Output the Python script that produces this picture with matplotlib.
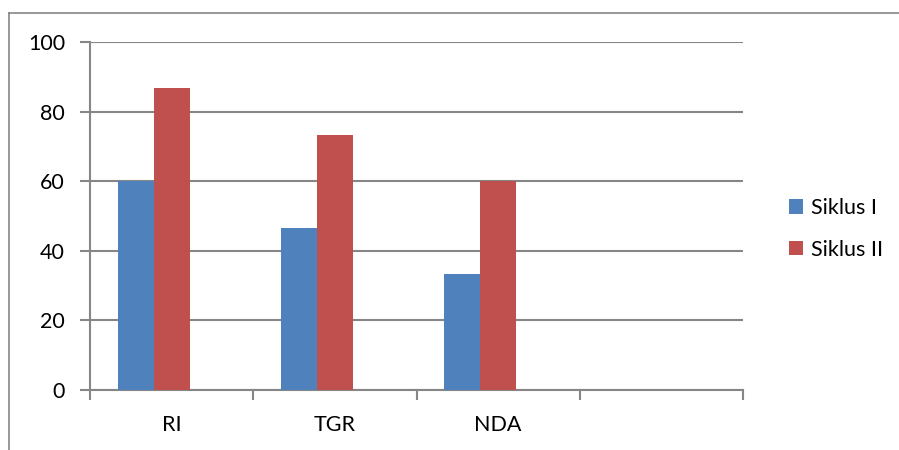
import matplotlib
matplotlib.use("Agg")
import matplotlib.pyplot as plt
from matplotlib.lines import Line2D
from matplotlib.patches import Patch
import numpy as np

categories = ["RI", "TGR", "NDA", ""]
siklus_1 = [60.0, 46.67, 33.33, np.nan]
siklus_2 = [86.67, 73.33, 60.0, np.nan]
series_names = ["Siklus I", "Siklus II"]
y_ticks = [0, 20, 40, 60, 80, 100]

BLUE = "#4F81BD"
RED = "#C0504D"
GRID = "#868686"

plt.rcParams["font.family"] = ["Lato", "DejaVu Sans"]
FS = 15.5

W, H = 899, 450
fig = plt.figure(figsize=(W / 100, H / 100), dpi=100)
fig.patch.set_facecolor("white")

# plot area in pixel coordinates
left, right, top, bottom = 90, 743, 42, 390
ax = fig.add_axes([left / W, 1 - bottom / H, (right - left) / W, (bottom - top) / H])

x = np.arange(len(categories))
bw = 36 / ((right - left) / len(categories))
ax.bar(x - bw, siklus_1, width=bw, color=BLUE, zorder=3, label=series_names[0])
ax.bar(x, siklus_2, width=bw, color=RED, zorder=3, label=series_names[1])

ax.set_xlim(-0.5, len(categories) - 0.5)
ax.set_ylim(0, 100)
ax.set_yticks(y_ticks)
ax.set_yticklabels([str(v) for v in y_ticks], fontsize=FS)
ax.yaxis.grid(True, color=GRID, linewidth=1.5, zorder=0)
ax.set_axisbelow(True)

# category labels between boundary ticks
ax.set_xticks(np.arange(len(categories) + 1) - 0.5)
ax.set_xticklabels([])
ax.set_xticks(x, minor=True)
ax.set_xticklabels(categories, minor=True, fontsize=FS)
ax.tick_params(axis="x", which="minor", length=0, pad=18)
ax.tick_params(axis="x", which="major", length=7, width=1.5, color=GRID)
ax.tick_params(axis="y", length=7, width=1.5, color=GRID, pad=11)

for side in ["top", "right"]:
    ax.spines[side].set_visible(False)
for side in ["left", "bottom"]:
    ax.spines[side].set_color(GRID)
    ax.spines[side].set_linewidth(1.5)

handles = [Patch(facecolor=BLUE), Patch(facecolor=RED)]
fig.legend(handles, series_names, loc="center left",
           bbox_to_anchor=(770 / W, 1 - 229 / H), frameon=False,
           fontsize=FS, handlelength=0.65, handleheight=0.65,
           handletextpad=0.35, labelspacing=1.0)

# chart border
fig.add_artist(Line2D([8.5 / W, 8.5 / W], [0, 1 - 13 / H], transform=fig.transFigure,
                      color=GRID, linewidth=1.2))
fig.add_artist(Line2D([8.5 / W, 1], [1 - 13 / H, 1 - 13 / H], transform=fig.transFigure,
                      color=GRID, linewidth=1.2))

fig.savefig("out.png", dpi=100, facecolor="white")
